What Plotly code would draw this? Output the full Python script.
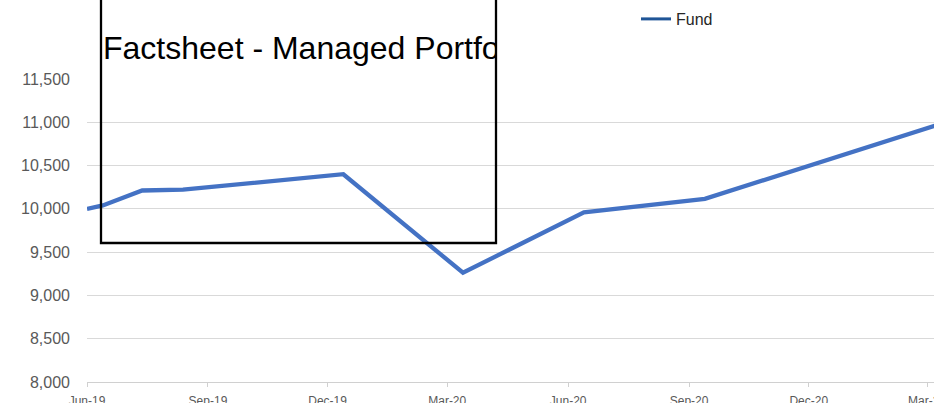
import plotly.graph_objects as go

# ---- data ----
dates = ["2019-06-01", "2019-06-13", "2019-07-13", "2019-08-13", "2019-12-13",
         "2020-03-13", "2020-06-13", "2020-09-13", "2021-03-13"]
fund_values = [10000, 10040, 10212, 10222, 10400, 9262, 9960, 10115, 10990]
series_name = "Fund"
title_text = "Factsheet - Managed Portfolio"
y_ticks = [8000, 8500, 9000, 9500, 10000, 10500, 11000, 11500]
x_range = ["2019-06-01", "2021-03-06 07:00"]

W, H = 934, 403
ML, MR, MT, MB = 87, 0, 79, 21
PW, PH = W - ML - MR, H - MT - MB

def px(xp):
    return (xp - ML) / PW

def py(yp):
    return (H - MB - yp) / PH

fig = go.Figure()
fig.add_trace(go.Scatter(
    x=dates, y=fund_values, mode="lines", name=series_name,
    line=dict(color="#4472C4", width=4.3), showlegend=False,
    legendgroup="fund", hoverinfo="x+y"))
# legend entry (drawn darker in the reference)
fig.add_trace(go.Scatter(
    x=[None], y=[None], mode="lines", name=series_name,
    line=dict(color="#1F5597", width=3), legendgroup="fund", showlegend=True))

fig.update_layout(
    width=W, height=H,
    margin=dict(l=ML, r=MR, t=MT, b=MB, pad=0, autoexpand=False),
    paper_bgcolor="white", plot_bgcolor="white",
    font=dict(family="Liberation Sans, Arial, sans-serif", color="#595959"),
    showlegend=True,
    legend=dict(orientation="h", x=px(636), y=py(2), xanchor="left", yanchor="top",
                font=dict(size=16, color="#262626"), bgcolor="rgba(0,0,0,0)",
                borderwidth=0),
    xaxis=dict(type="date", range=x_range, tick0="2019-06-01", dtick="M3",
               tickformat="%b-%y", showgrid=False, zeroline=False,
               showline=True, linecolor="#d0d0d0", linewidth=1,
               ticks="outside", ticklen=4, tickcolor="#d0d0d0", automargin=False,
               ticklabeloverflow="allow",
               tickfont=dict(size=12, color="#595959"), ticklabelstandoff=4),
    yaxis=dict(range=[8000, 11500], tickvals=y_ticks, tickformat=",d",
               showgrid=True, gridcolor="#d9d9d9", gridwidth=1, automargin=False,
               zeroline=False, showline=False, ticks="",
               tickfont=dict(size=16, color="#595959"), ticklabelstandoff=16),
)

fig.add_shape(type="rect", xref="paper", yref="paper",
              x0=px(101), x1=px(496), y0=py(243), y1=py(-10),
              line=dict(color="black", width=2.3), fillcolor="rgba(0,0,0,0)",
              layer="above")

fig.add_annotation(text=title_text, xref="paper", yref="paper",
                   x=px(101), y=py(48), xanchor="left", yanchor="middle",
                   width=392, align="left", showarrow=False, borderpad=1,
                   font=dict(size=32, color="black",
                             family="Liberation Sans, Arial, sans-serif"))

fig.write_html("out.html", config={"displayModeBar": False},
               post_script="document.body.style.margin='0px';"
                           "document.body.style.overflow='hidden';")
